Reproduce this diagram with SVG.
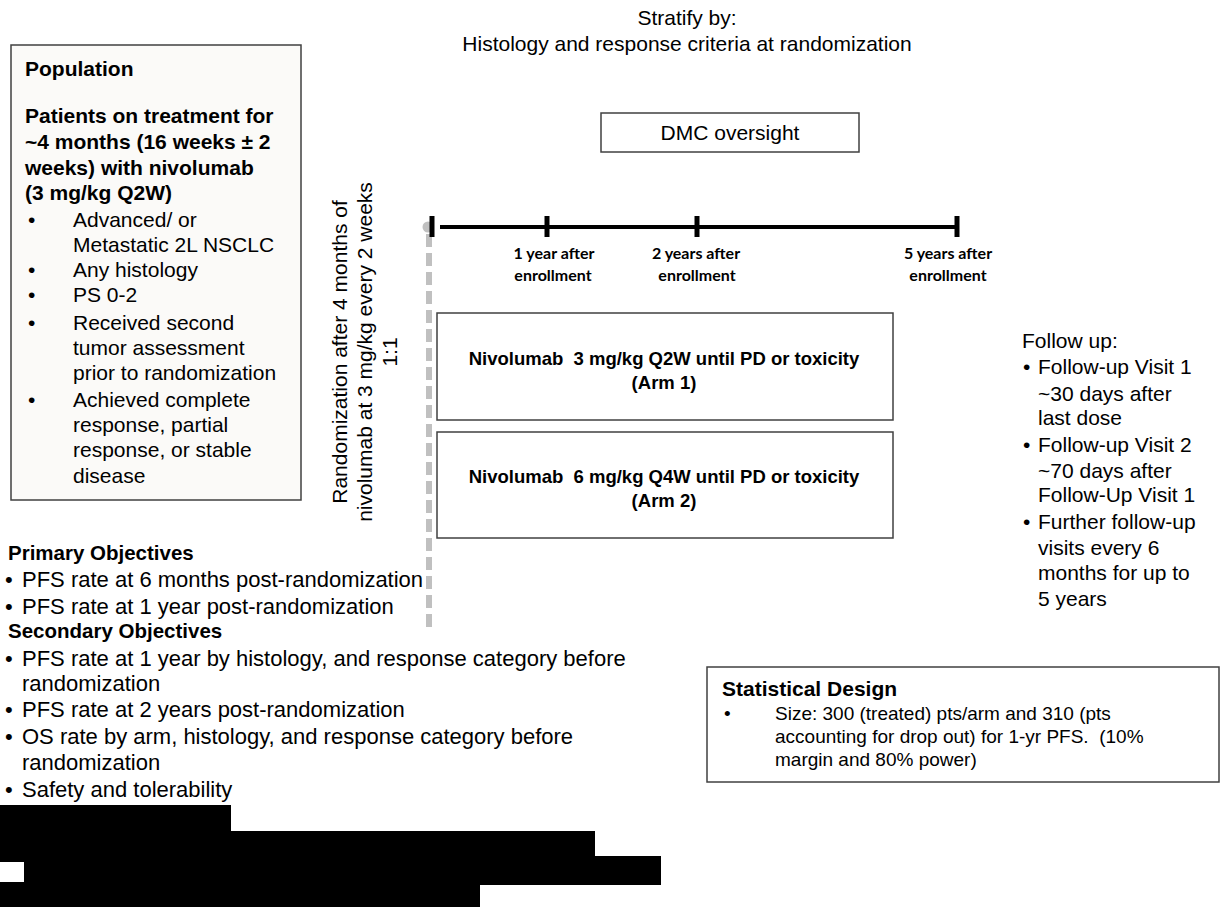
<svg xmlns="http://www.w3.org/2000/svg" width="1221" height="907" viewBox="0 0 1221 907">
<style>
text{font-family:"Liberation Sans",Arial,sans-serif;font-size:21px;fill:#000}
.b{font-weight:bold}
.c{text-anchor:middle}
.arm{font-size:18.5px;font-weight:bold;text-anchor:middle}
.obj{font-size:22px}
.objh{font-size:20.5px;font-weight:bold}
.st{font-size:19px}
.tl{font-family:Lato,"Liberation Sans",sans-serif;font-size:16px;font-weight:bold;text-anchor:middle}
.box{fill:#fff;stroke:#404040;stroke-width:1.5}
.tick{stroke:#000;stroke-width:5}
</style>
<rect width="1221" height="907" fill="#fff"/>

<g id="stratify">
<text class="c" x="687" y="25">Stratify by:</text>
<text class="c" x="687" y="51">Histology and response criteria at randomization</text>
</g>

<g id="population">
<rect x="11" y="45" width="290" height="455" fill="#fbfaf8" stroke="#404040" stroke-width="1.5"/>
<text class="b" x="25" y="76">Population</text>
<text class="b" x="25" y="123">Patients on treatment for</text>
<text class="b" x="25" y="149">~4 months (16 weeks ± 2</text>
<text class="b" x="25" y="175">weeks) with nivolumab</text>
<text class="b" x="25" y="200">(3 mg/kg Q2W)</text>
<text x="28" y="227">•</text><text x="73" y="227">Advanced/ or</text>
<text x="73" y="252">Metastatic 2L NSCLC</text>
<text x="28" y="277">•</text><text x="73" y="277">Any histology</text>
<text x="28" y="302">•</text><text x="73" y="302">PS 0-2</text>
<text x="28" y="330">•</text><text x="73" y="330">Received second</text>
<text x="73" y="355">tumor assessment</text>
<text x="73" y="380">prior to randomization</text>
<text x="28" y="407">•</text><text x="73" y="407">Achieved complete</text>
<text x="73" y="432">response, partial</text>
<text x="73" y="457">response, or stable</text>
<text x="73" y="483">disease</text>
</g>

<g id="randomization">
<text class="c" transform="translate(347,352) rotate(-90)">Randomization after 4 months of</text>
<text class="c" transform="translate(372,352) rotate(-90)">nivolumab at 3 mg/kg every 2 weeks</text>
<text class="c" transform="translate(397,352) rotate(-90)">1:1</text>
</g>

<g id="dmc">
<rect class="box" x="601" y="113" width="258" height="39"/>
<text class="c" x="730" y="140">DMC oversight</text>
</g>

<g id="connectors">
<line x1="429" y1="234" x2="429" y2="628" stroke="#c0c0c0" stroke-width="6" stroke-dasharray="13,6"/>
<circle cx="428" cy="227" r="5.5" fill="#c0c0c0"/>
<line x1="440" y1="227" x2="957" y2="227" stroke="#000" stroke-width="4"/>
<line class="tick" x1="432" y1="216" x2="432" y2="237"/>
<line class="tick" x1="547" y1="216" x2="547" y2="237"/>
<line class="tick" x1="697" y1="216" x2="697" y2="237"/>
<line class="tick" x1="957" y1="216" x2="957" y2="237"/>
</g>

<g id="timeline-labels">
<text class="tl" x="554" y="259">1 year after</text>
<text class="tl" x="553" y="281">enrollment</text>
<text class="tl" x="696" y="259">2 years after</text>
<text class="tl" x="697" y="281">enrollment</text>
<text class="tl" x="948" y="259">5 years after</text>
<text class="tl" x="948" y="281">enrollment</text>
</g>

<g id="arm1">
<rect class="box" x="437" y="313" width="456" height="107"/>
<text class="arm" x="664" y="365" xml:space="preserve">Nivolumab  3 mg/kg Q2W until PD or toxicity</text>
<text class="arm" x="664" y="389">(Arm 1)</text>
</g>

<g id="arm2">
<rect class="box" x="437" y="432" width="456" height="106"/>
<text class="arm" x="664" y="483" xml:space="preserve">Nivolumab  6 mg/kg Q4W until PD or toxicity</text>
<text class="arm" x="664" y="507">(Arm 2)</text>
</g>

<g id="followup">
<text x="1022" y="348">Follow up:</text>
<text x="1023" y="374">•</text><text x="1038" y="374">Follow-up Visit 1</text>
<text x="1038" y="401">~30 days after</text>
<text x="1038" y="425">last dose</text>
<text x="1023" y="452">•</text><text x="1038" y="452">Follow-up Visit 2</text>
<text x="1038" y="478">~70 days after</text>
<text x="1038" y="502">Follow-Up Visit 1</text>
<text x="1023" y="529">•</text><text x="1038" y="529">Further follow-up</text>
<text x="1038" y="555">visits every 6</text>
<text x="1038" y="580">months for up to</text>
<text x="1038" y="606">5 years</text>
</g>

<g id="objectives">
<text class="objh" x="8" y="560">Primary Objectives</text>
<text class="obj" x="5" y="587">•</text><text class="obj" x="22" y="587">PFS rate at 6 months post-randomization</text>
<text class="obj" x="5" y="614">•</text><text class="obj" x="22" y="614">PFS rate at 1 year post-randomization</text>
<text class="objh" x="8" y="638">Secondary Objectives</text>
<text class="obj" x="5" y="666">•</text><text class="obj" x="22" y="666">PFS rate at 1 year by histology, and response category before</text>
<text class="obj" x="22" y="691">randomization</text>
<text class="obj" x="5" y="717">•</text><text class="obj" x="22" y="717">PFS rate at 2 years post-randomization</text>
<text class="obj" x="5" y="744">•</text><text class="obj" x="22" y="744">OS rate by arm, histology, and response category before</text>
<text class="obj" x="22" y="770">randomization</text>
<text class="obj" x="5" y="797">•</text><text class="obj" x="22" y="797">Safety and tolerability</text>
</g>

<g id="statistical">
<rect class="box" x="707" y="667" width="512" height="115"/>
<text class="b" x="722" y="696">Statistical Design</text>
<text class="st" x="724" y="720">•</text><text class="st" x="775" y="720">Size: 300 (treated) pts/arm and 310 (pts</text>
<text class="st" x="775" y="743" xml:space="preserve">accounting for drop out) for 1-yr PFS.  (10%</text>
<text class="st" x="775" y="766">margin and 80% power)</text>
</g>

<g id="redaction">
<rect x="0" y="805" width="231" height="27" fill="#000"/>
<rect x="0" y="831" width="595" height="26" fill="#000"/>
<rect x="0" y="856" width="661" height="29" fill="#000"/>
<rect x="0" y="862" width="24" height="20" fill="#fff"/>
<rect x="0" y="884" width="480" height="23" fill="#000"/>
</g>
</svg>
